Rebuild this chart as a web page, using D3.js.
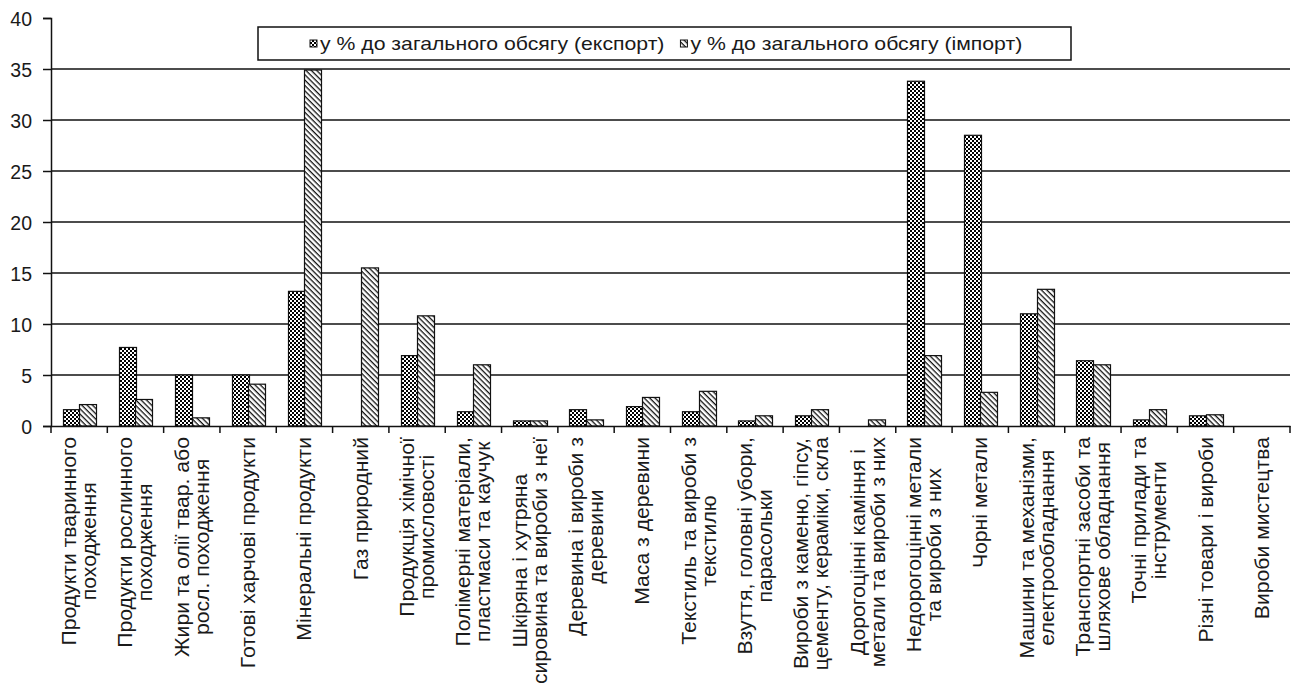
<!DOCTYPE html>
<html><head><meta charset="utf-8">
<script src="https://cdn.jsdelivr.net/npm/d3@7"></script>
<style>
body{margin:0;background:#fff;}
text{font-family:Arial,"Liberation Sans",sans-serif;fill:#1a1a1a;}
</style></head>
<body><svg id="c" width="1298" height="687"></svg>
<script>
const categories = [
 "Продукти тваринного\nпоходження",
 "Продукти рослинного\nпоходження",
 "Жири та олії твар. або\nросл. походження",
 "Готові харчові продукти",
 "Мінеральні продукти",
 "Газ природний",
 "Продукція хімічної\nпромисловості",
 "Полімерні матеріали,\nпластмаси та каучук",
 "Шкіряна і хутряна\nсировина та вироби з неї",
 "Деревина і вироби з\nдеревини",
 "Маса з деревини",
 "Текстиль та вироби з\nтекстилю",
 "Взуття, головні убори,\nпарасольки",
 "Вироби з каменю, гіпсу,\nцементу, кераміки, скла",
 "Дорогоцінні каміння і\nметали та вироби з них",
 "Недорогоцінні метали\nта вироби з них",
 "Чорні метали",
 "Машини та механізми,\nелектрообладнання",
 "Транспортні засоби та\nшляхове обладнання",
 "Точні прилади та\nінструменти",
 "Різні товари і вироби",
 "Вироби мистецтва"
];
const exportShare = [1.6, 7.7, 5.0, 5.0, 13.2, 0, 6.9, 1.4, 0.5, 1.6, 1.9, 1.4, 0.5, 1.0, 0, 33.8, 28.5, 11.0, 6.4, 0.6, 1.0, 0];
const importShare = [2.1, 2.6, 0.8, 4.1, 34.9, 15.5, 10.8, 6.0, 0.5, 0.6, 2.8, 3.4, 1.0, 1.6, 0.6, 6.9, 3.3, 13.4, 6.0, 1.6, 1.1, 0];
const seriesNames = ["у % до загального обсягу (експорт)", "у % до загального обсягу (імпорт)"];
const yTicks = [0, 5, 10, 15, 20, 25, 30, 35, 40];

const svg = d3.select("#c");
const defs = svg.append("defs");
const chk = defs.append("pattern").attr("id","pChk").attr("patternUnits","userSpaceOnUse").attr("width",4).attr("height",4);
chk.append("rect").attr("width",4).attr("height",4).attr("fill","#fff");
chk.append("rect").attr("width",2).attr("height",2).attr("fill","#000");
chk.append("rect").attr("x",2).attr("y",2).attr("width",2).attr("height",2).attr("fill","#000");
const dg = defs.append("pattern").attr("id","pDiag").attr("patternUnits","userSpaceOnUse").attr("width",3.8).attr("height",3.8).attr("patternTransform","rotate(45)");
dg.append("rect").attr("width",3.8).attr("height",3.8).attr("fill","#fff");
dg.append("rect").attr("width",3.8).attr("height",1.3).attr("fill","#111");
const fills = ["url(#pChk)","url(#pDiag)"];

const L = 51, R = 1290, T = 18, B = 426;
const x = d3.scaleBand().domain(categories).range([L, R]).paddingInner(0).paddingOuter(0);
const x1 = d3.scaleBand().domain([0,1]).range([0, x.bandwidth()]).paddingInner(0).paddingOuter(0.7);
const y = d3.scaleLinear().domain([0, 40]).range([B, T]);

// gridlines
svg.append("g").selectAll("line").data(yTicks.filter(t => t > 0 && t < 40)).join("line")
  .attr("x1", L).attr("x2", R).attr("y1", d => y(d)).attr("y2", d => y(d))
  .attr("stroke", "#111").attr("stroke-width", 1.5);

// bars
const bars = [];
categories.forEach((c, i) => {
  [exportShare[i], importShare[i]].forEach((v, s) => { if (v > 0) bars.push({c, v, s}); });
});
svg.append("g").selectAll("rect").data(bars).join("rect")
  .attr("x", e => Math.round(x(e.c) + x1(e.s)) + 0.5).attr("width", Math.round(x1.bandwidth()))
  .attr("y", e => y(e.v)).attr("height", e => y(0) - y(e.v))
  .attr("fill", e => fills[e.s]).attr("stroke", "#111").attr("stroke-width", 1.2);

// y axis
const ya = svg.append("g").attr("transform", `translate(${L},0)`)
  .call(d3.axisLeft(y).tickValues(yTicks).tickSize(8).tickPadding(11).tickFormat(d3.format("d")));
ya.select(".domain").attr("stroke", "#111").attr("stroke-width", 1.5);
ya.selectAll(".tick line").attr("stroke", "#111").attr("stroke-width", 1.5);
ya.selectAll(".tick text").style("font-size", "19.5px").attr("fill", "#1a1a1a").attr("dy", "0.36em");

// x axis
const xa = svg.append("g").attr("transform", `translate(0,${B})`)
  .call(d3.axisBottom(x).tickSize(0).tickFormat(""));
xa.select(".domain").attr("stroke", "#111").attr("stroke-width", 1.5);
const tickPos = categories.map(c => x(c)).concat([R]);
xa.selectAll(".xt").data(tickPos).join("line").attr("class","xt")
  .attr("x1", d => d).attr("x2", d => d).attr("y1", 0).attr("y2", 7)
  .attr("stroke", "#111").attr("stroke-width", 1.5);

// x labels
const lh = 20, stretch = 1.06;
const lab = svg.append("g").selectAll("g").data(categories).join("g")
  .attr("transform", d => `translate(${x(d) + x.bandwidth()/2},437) rotate(-90) scale(${stretch},1)`);
lab.each(function(d) {
  const lines = d.split("\n");
  const gg = d3.select(this);
  const ts = lines.map((ln, i) => gg.append("text").text(ln)
    .style("font-size", "20px")
    .attr("y", (i - (lines.length - 1) / 2) * lh).attr("dy", "0.35em")
    .attr("text-anchor", "middle"));
  const maxW = d3.max(ts, t => t.node().getComputedTextLength());
  ts.forEach(t => t.attr("x", -maxW / 2));
});

// legend
const lg = svg.append("g");
lg.append("rect").attr("x", 258).attr("y", 27).attr("width", 813).attr("height", 33)
  .attr("fill", "#fff").attr("stroke", "#111").attr("stroke-width", 1.5);
let cx = 310;
const ls = 1.18;
seriesNames.forEach((n, i) => {
  lg.append("rect").attr("x", cx).attr("y", 40).attr("width", 7).attr("height", 7)
    .attr("fill", fills[i]).attr("stroke", "#111").attr("stroke-width", 1);
  const t = lg.append("text").attr("transform", `translate(${cx + 10},44) scale(${ls},1)`)
    .attr("dy", "0.35em").style("font-size", "18px").text(n);
  cx += 10 + t.node().getComputedTextLength() * ls + 16;
});
</script></body></html>
